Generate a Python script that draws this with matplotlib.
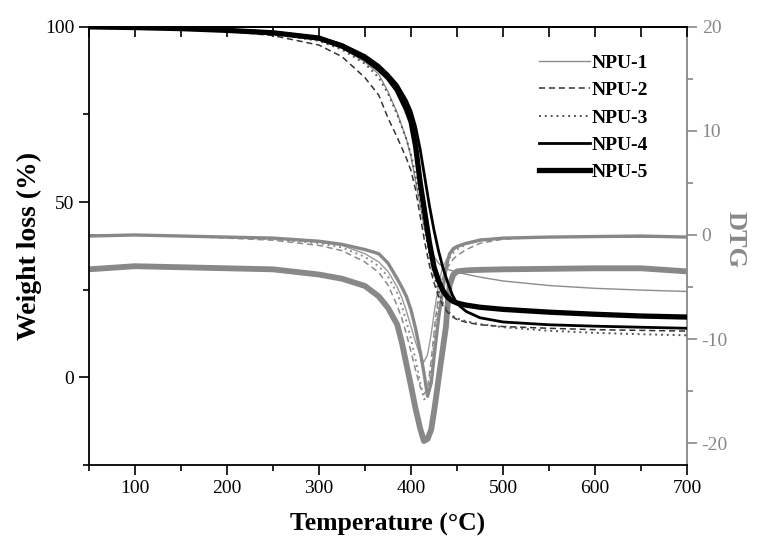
import numpy as np
import matplotlib
matplotlib.use("Agg")
import matplotlib.pyplot as plt
from matplotlib.ticker import MultipleLocator

plt.rcParams['font.family'] = ['Liberation Serif', 'DejaVu Serif']
plt.rcParams['axes.unicode_minus'] = False

# temperatures (°C) for the weight-loss curves
t_tg = [50, 100, 150, 200, 250, 300, 325, 350, 365, 375, 385, 395, 400, 405, 410,
        415, 420, 425, 430, 435, 440, 445, 450, 460, 475, 500, 550, 600, 650, 700]
tg_npu1 = [100, 99.8, 99.5, 99.0, 98.0, 96.2, 94.0, 90.0, 86.5, 81.5, 75.5, 68.0, 63.0, 56.0, 49.0,
           42.0, 37.5, 34.5, 32.5, 31.5, 30.8, 30.4, 30.0, 29.4, 28.6, 27.5, 26.2, 25.4, 24.9, 24.5]
tg_npu2 = [100, 99.7, 99.4, 98.8, 97.5, 94.8, 91.5, 85.5, 80.5, 74.0, 68.5, 62.5, 59.0, 53.5, 46.0,
           38.5, 32.0, 27.0, 23.0, 20.3, 18.5, 17.3, 16.5, 15.7, 15.0, 14.5, 14.0, 13.6, 13.4, 13.2]
tg_npu3 = [100, 99.8, 99.5, 99.0, 98.0, 96.0, 93.5, 89.5, 85.5, 81.0, 75.0, 68.0, 63.5, 57.5, 50.5,
           42.0, 35.0, 29.0, 24.5, 21.0, 19.0, 17.6, 16.8, 16.0, 15.2, 14.3, 13.3, 12.7, 12.3, 12.0]
tg_npu4 = [100, 99.8, 99.6, 99.2, 98.5, 97.0, 95.0, 91.8, 89.0, 86.5, 83.5, 79.0, 76.0, 71.5, 65.0,
           57.0, 49.0, 42.0, 36.0, 31.0, 27.0, 23.5, 21.0, 18.8, 17.0, 15.8, 15.0, 14.6, 14.3, 14.0]
tg_npu5 = [100, 99.8, 99.5, 99.0, 98.3, 96.8, 94.5, 91.0, 88.0, 85.5, 82.0, 76.5, 73.0, 66.0, 55.5,
           47.0, 38.5, 31.5, 27.5, 24.6, 22.8, 21.8, 21.2, 20.6, 20.0, 19.4, 18.6, 18.0, 17.5, 17.2]

# temperatures (°C) for the DTG curves
t_dtg = [50, 100, 150, 200, 250, 300, 325, 350, 365, 375, 385, 390, 395, 400, 405, 410, 414,
         418, 422, 426, 430, 434, 438, 440, 442, 446, 450, 460, 475, 500, 550, 600, 650, 700]
dtg_npu1 = [0.0, 0.0, -0.1, -0.2, -0.3, -0.7, -1.0, -1.8, -2.6, -3.5, -5.0, -6.0, -7.3, -8.8, -10.3, -11.6, -12.2,
            -11.5, -9.5, -7.0, -4.8, -3.2, -2.5, -2.2, -1.9, -1.5, -1.2, -0.8, -0.4, -0.3, -0.2, -0.2, -0.2, -0.2]
dtg_npu2 = [0.0, 0.0, -0.1, -0.3, -0.5, -1.0, -1.5, -2.6, -3.6, -4.8, -6.8, -8.0, -9.5, -11.2, -13.0, -14.6, -15.3,
            -14.8, -12.0, -8.5, -5.8, -4.2, -3.4, -3.1, -2.8, -2.3, -2.0, -1.4, -0.8, -0.4, -0.2, -0.2, -0.2, -0.2]
dtg_npu3 = [0.0, 0.0, -0.1, -0.2, -0.4, -0.8, -1.2, -2.1, -3.0, -4.0, -5.6, -6.8, -8.3, -10.0, -12.0, -14.2, -15.8,
            -15.6, -13.0, -9.5, -6.5, -4.3, -3.0, -2.6, -2.2, -1.7, -1.4, -0.9, -0.5, -0.3, -0.2, -0.2, -0.2, -0.2]
dtg_npu4 = [-0.1, 0.0, -0.1, -0.2, -0.3, -0.6, -0.9, -1.4, -1.8, -2.7, -4.2, -5.0, -5.9, -7.2, -9.0, -11.2, -13.2,
            -15.5, -14.2, -11.0, -8.0, -5.6, -3.3, -2.4, -1.8, -1.3, -1.1, -0.8, -0.5, -0.3, -0.2, -0.15, -0.1, -0.2]
dtg_npu5 = [-3.3, -3.0, -3.1, -3.2, -3.3, -3.8, -4.2, -4.9, -5.9, -7.0, -8.6, -10.3, -12.4, -14.5, -16.7, -18.6, -19.8,
            -19.6, -18.7, -16.4, -13.8, -11.3, -8.8, -6.5, -4.8, -3.8, -3.5, -3.4, -3.35, -3.3, -3.25, -3.2, -3.2, -3.5]

labels = ["NPU-1", "NPU-2", "NPU-3", "NPU-4", "NPU-5"]
tg_data = [tg_npu1, tg_npu2, tg_npu3, tg_npu4, tg_npu5]
dtg_data = [dtg_npu1, dtg_npu2, dtg_npu3, dtg_npu4, dtg_npu5]

# stil: (culoare TG, culoare DTG, linie, grosime)
stiluri = [
    ("#8c8c8c", "#9a9a9a", "-", 1.0),
    ("#333333", "#8a8a8a", (0, (4, 2.5)), 1.1),
    ("#555555", "#8a8a8a", (0, (1, 2)), 1.4),
    ("black", "#888888", "-", 2.0),
    ("black", "#888888", "-", 3.8),
]
gri = "#888888"

fig = plt.figure(figsize=(7.66, 5.48), dpi=100)
ax = fig.add_axes([0.116, 0.1515, 0.781, 0.7995])
ax2 = ax.twinx()

# DTG pe axa din dreapta
for y, (c_tg, c_dtg, ls, lw) in zip(dtg_data, stiluri):
    lw2 = lw + 0.4 if lw > 1.5 else lw
    ax2.plot(t_dtg, y, color=c_dtg, linestyle=ls, linewidth=lw2, solid_joinstyle="round")

# TG pe axa din stanga
linii = []
for y, lab, (c_tg, c_dtg, ls, lw) in zip(tg_data, labels, stiluri):
    l, = ax.plot(t_tg, y, color=c_tg, linestyle=ls, linewidth=lw, label=lab, solid_joinstyle="round")
    linii.append(l)

ax.set_zorder(ax2.get_zorder() + 1)
ax.patch.set_visible(False)

ax.set_xlim(50, 700)
ax.set_ylim(-25, 100)
ax2.set_ylim(-22.1, 20)

ax.xaxis.set_major_locator(MultipleLocator(100))
ax.xaxis.set_minor_locator(MultipleLocator(50))
ax.yaxis.set_major_locator(MultipleLocator(50))
ax.yaxis.set_minor_locator(MultipleLocator(25))
ax2.yaxis.set_major_locator(MultipleLocator(10))
ax2.yaxis.set_minor_locator(MultipleLocator(5))

ax.tick_params(which="major", direction="out", length=7, width=1.2, labelsize=14, top=False, right=False)
ax.tick_params(which="minor", direction="out", length=4, width=1.2, top=False, right=False)
ax2.tick_params(which="major", direction="out", length=7, width=1.2, labelsize=14,
                color=gri, labelcolor=gri)
ax2.tick_params(which="minor", direction="out", length=4, width=1.2, color=gri)

sec = ax.secondary_xaxis("top")
sec.xaxis.set_major_locator(MultipleLocator(50))
sec.tick_params(direction="in", length=7, width=1.2, labeltop=False)
sec.spines["top"].set_linewidth(1.3)

for s in ["left", "bottom", "top"]:
    ax.spines[s].set_linewidth(1.3)
ax.spines["right"].set_visible(False)
for s in ["left", "bottom", "top"]:
    ax2.spines[s].set_visible(False)
ax2.spines["right"].set_color(gri)
ax2.spines["right"].set_linewidth(1.3)

ax.set_xlabel("Temperature (°C)", fontsize=18.5, fontweight="bold", labelpad=12)
ax.set_ylabel("Weight loss (%)", fontsize=20, fontweight="bold", labelpad=2)
ax2.set_ylabel("DTG", fontsize=19, fontweight="bold", color=gri, rotation=270,
               ha="center", va="center")
ax2.yaxis.set_label_coords(1.08, 0.515)

ax.legend(handles=linii, loc="upper right", bbox_to_anchor=(0.948, 0.955), borderaxespad=0,
          frameon=False, handlelength=2.6, handletextpad=0.1, labelspacing=0.5,
          prop=dict(weight="bold", size=14))

fig.savefig("out.png", dpi=100)
